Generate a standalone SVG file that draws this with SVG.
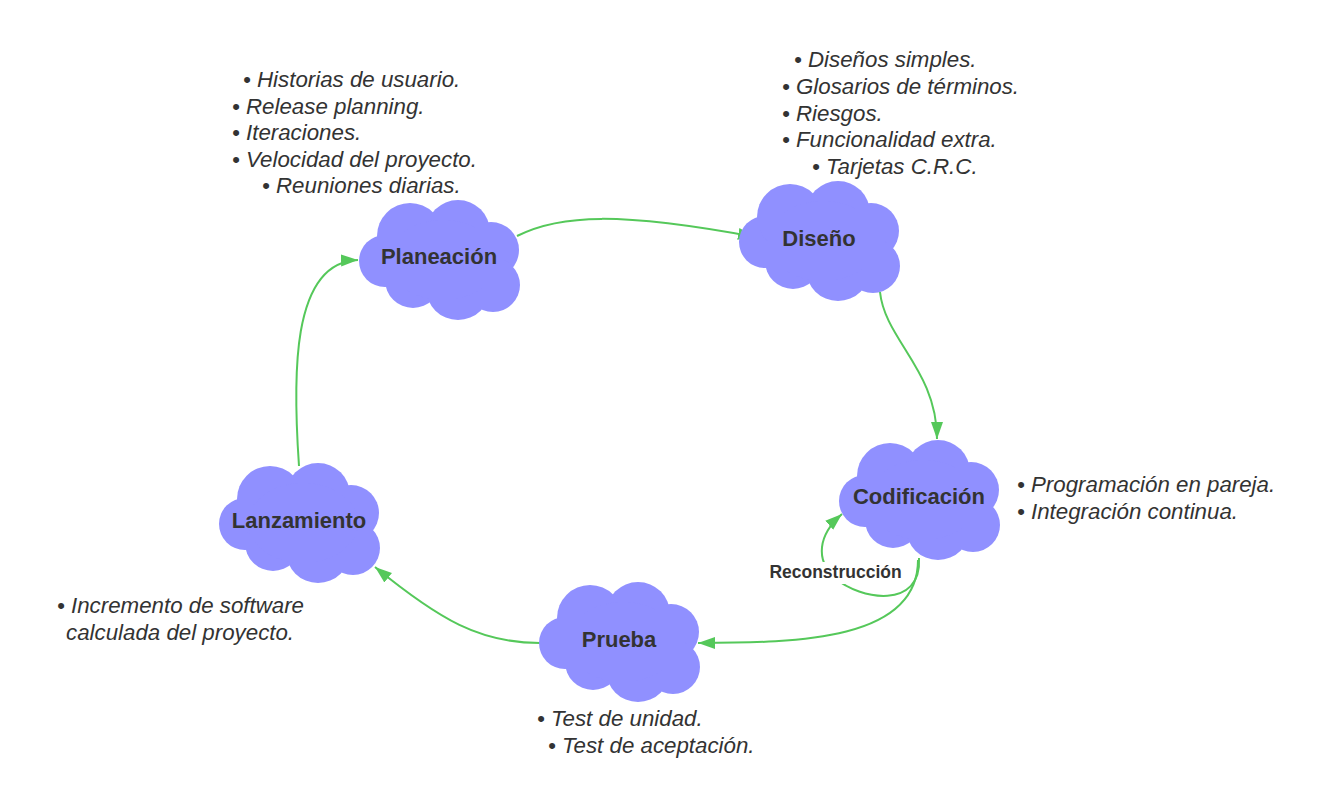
<svg xmlns="http://www.w3.org/2000/svg" xmlns:xlink="http://www.w3.org/1999/xlink" width="1340" height="800" viewBox="0 0 1340 800">
<style>
.lbl{font-family:"Liberation Sans",Arial,sans-serif;font-weight:bold;font-size:22px;fill:#333333;text-anchor:middle}
.note{font-family:"Liberation Sans",Arial,sans-serif;font-style:italic;font-size:22.3px;fill:#333333}
.conn{fill:none;stroke:#55c85a;stroke-width:2}
.cl{fill:#9090ff}
.edgelbl{font-family:"Liberation Sans",Arial,sans-serif;font-weight:bold;font-size:17.5px;fill:#333333;text-anchor:middle}
</style>
<defs>
<g id="cloud" class="cl">
<circle cx="27" cy="61" r="26"/>
<circle cx="52" cy="36" r="33"/>
<circle cx="100" cy="32" r="32"/>
<circle cx="133" cy="50" r="28"/>
<circle cx="135" cy="85" r="27"/>
<circle cx="100" cy="88" r="32"/>
<circle cx="55" cy="80" r="28"/>
<ellipse cx="85" cy="60" rx="55" ry="40"/>
</g>
<marker id="arr" markerUnits="userSpaceOnUse" markerWidth="18" markerHeight="14" refX="17" refY="6" orient="auto" viewBox="0 0 18 12">
<path d="M0,0 L17,6 L0,12 z" fill="#55c85a"/>
</marker>
</defs>
<rect width="1340" height="800" fill="#ffffff"/>

<g id="connectors">
<path class="conn" d="M517,236 C560,214 620,212 755,237" marker-end="url(#arr)"/>
<path class="conn" d="M880,292 C885,340 937,370 937,439" marker-end="url(#arr)"/>
<path class="conn" d="M918,560 C918,640 800,643 698,643" marker-end="url(#arr)"/>
<path class="conn" d="M919,558 C922,610 860,600 835,578 C815,560 818,535 842,514" marker-end="url(#arr)"/>
<path class="conn" d="M540,643 C480,643 440,620 375,567" marker-end="url(#arr)"/>
<path class="conn" d="M299,466 C293,380 290,262 358,260" marker-end="url(#arr)"/>
<g id="label-reconstruccion">
<rect x="765" y="562" width="141" height="22" fill="#ffffff"/>
<text class="edgelbl" x="835.5" y="578">Reconstrucción</text>
</g>
</g>

<g id="planeacion">
<use href="#cloud" transform="translate(358,200)"/>
<text class="lbl" x="439" y="264">Planeación</text>
</g>
<g id="diseno">
<use href="#cloud" transform="translate(738,181)"/>
<text class="lbl" x="819" y="246">Diseño</text>
</g>
<g id="codificacion">
<use href="#cloud" transform="translate(838,440)"/>
<text class="lbl" x="919" y="504">Codificación</text>
</g>
<g id="lanzamiento">
<use href="#cloud" transform="translate(218,463)"/>
<text class="lbl" x="299" y="528">Lanzamiento</text>
</g>
<g id="prueba">
<use href="#cloud" transform="translate(538,582)"/>
<text class="lbl" x="619" y="647">Prueba</text>
</g>

<g id="notes-planeacion">
<text class="note" x="243" y="87">• Historias de usuario.</text>
<text class="note" x="232" y="113.6">• Release planning.</text>
<text class="note" x="232" y="140.2">• Iteraciones.</text>
<text class="note" x="232" y="166.8">• Velocidad del proyecto.</text>
<text class="note" x="262" y="193.4">• Reuniones diarias.</text>
</g>
<g id="notes-diseno">
<text class="note" x="794" y="67">• Diseños simples.</text>
<text class="note" x="782" y="94">• Glosarios de términos.</text>
<text class="note" x="782" y="120.5">• Riesgos.</text>
<text class="note" x="782" y="147">• Funcionalidad extra.</text>
<text class="note" x="812" y="174">• Tarjetas C.R.C.</text>
</g>
<g id="notes-codificacion">
<text class="note" x="1017" y="492">• Programación en pareja.</text>
<text class="note" x="1017" y="519">• Integración continua.</text>
</g>
<g id="notes-lanzamiento">
<text class="note" x="57" y="613">• Incremento de software</text>
<text class="note" x="66" y="640">calculada del proyecto.</text>
</g>
<g id="notes-prueba">
<text class="note" x="537" y="726">• Test de unidad.</text>
<text class="note" x="548" y="753">• Test de aceptación.</text>
</g>
</svg>
